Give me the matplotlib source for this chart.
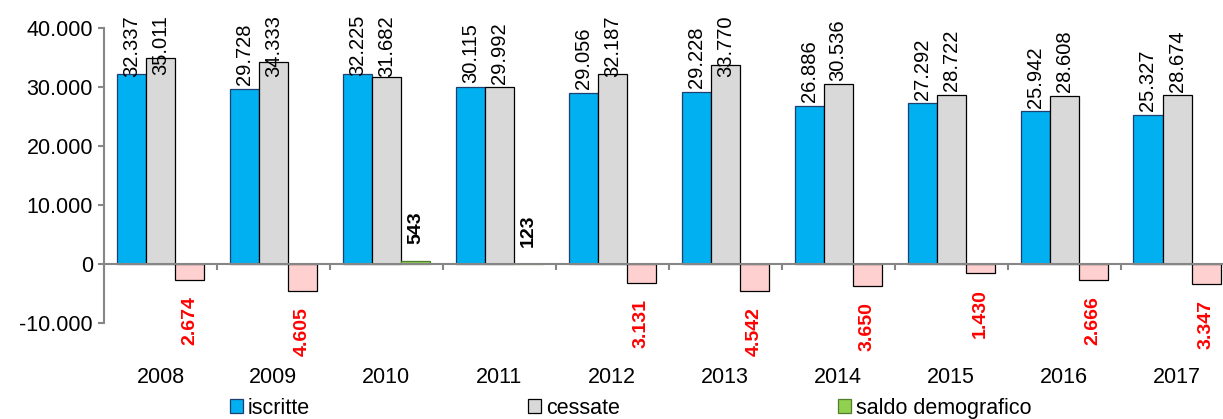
import matplotlib
matplotlib.use("Agg")
import matplotlib.pyplot as plt
from matplotlib.patches import Patch
from matplotlib.ticker import FixedLocator, FuncFormatter

years = ["2008", "2009", "2010", "2011", "2012", "2013", "2014", "2015", "2016", "2017"]
iscritte = [32337, 29728, 32225, 30115, 29056, 29228, 26886, 27292, 25942, 25327]
cessate = [35011, 34333, 31682, 29992, 32187, 33770, 30536, 28722, 28608, 28674]
saldo = [-2674, -4605, 543, 123, -3131, -4542, -3650, -1430, -2666, -3347]
yticks = [-10000, 0, 10000, 20000, 30000, 40000]

plt.rcParams['font.family'] = ['Liberation Sans', 'DejaVu Sans']

def fmt(v):
    return f"{int(v):,}".replace(",", ".")

W, H = 1223, 419
DPI = 100
fig = plt.figure(figsize=(W / DPI, H / DPI), dpi=DPI)
ax = fig.add_axes([104 / W, 1 - 323.3 / H, (1233.5 - 104) / W, (323.3 - 28.3) / H])

x = list(range(len(years)))
bw = 0.257
c_isc = "#00B0F0"
c_ces = "#D9D9D9"
c_neg = "#FFD0D0"
c_pos = "#92D050"

b1 = ax.bar([i - bw for i in x], iscritte, bw, color=c_isc, edgecolor="#1F3F6F", linewidth=0.9, zorder=2)
b2 = ax.bar(x, cessate, bw, color=c_ces, edgecolor="#000000", linewidth=0.9, zorder=2)
scol = [c_pos if v > 0 else c_neg for v in saldo]
secol = ["#4F7F2A" if v > 0 else "#000000" for v in saldo]
b3 = ax.bar([i + bw for i in x], saldo, bw, color=scol, edgecolor=secol, linewidth=0.9, zorder=2)

top_anns = []
for bars, vals in ((b1, iscritte), (b2, cessate)):
    for r, v in zip(bars, vals):
        a = ax.annotate(fmt(v), (r.get_x() + r.get_width() / 2, v), xytext=(0, 2.5),
                        textcoords="offset points", rotation=90, ha="center", va="bottom",
                        fontsize=14.5, color="#000000", zorder=3)
        top_anns.append(a)

for r, v in zip(b3, saldo):
    cx = r.get_x() + r.get_width() / 2
    if v > 0:
        ax.annotate(fmt(v), (cx, v), xytext=(0, 12), textcoords="offset points",
                    rotation=90, ha="center", va="bottom", fontsize=14,
                    fontweight="bold", color="#000000", zorder=3)
    else:
        ax.annotate(fmt(-v), (cx, v), xytext=(0, -11.5), textcoords="offset points",
                    rotation=90, ha="center", va="top", fontsize=14,
                    fontweight="bold", color="#FF0000", zorder=3)

ax.set_xlim(-0.5, len(years) - 0.5)
ax.set_ylim(-10000, 40000)
ax.set_yticks(yticks)
ax.yaxis.set_major_formatter(FuncFormatter(lambda v, p: fmt(v)))

gray = "#868686"
for s in ("top", "right"):
    ax.spines[s].set_visible(False)
ax.spines["left"].set_color(gray)
ax.spines["left"].set_linewidth(1.5)
ax.spines["bottom"].set_position(("data", 0))
ax.spines["bottom"].set_color(gray)
ax.spines["bottom"].set_linewidth(1.5)
ax.spines["bottom"].set_zorder(3)

ax.tick_params(axis="y", direction="out", length=4, width=1.5, color=gray,
               labelsize=15.5, labelcolor="#000000", pad=4)
ax.xaxis.set_major_locator(FixedLocator([i - 0.5 for i in range(len(years) + 1)]))
ax.xaxis.set_major_formatter(FuncFormatter(lambda v, p: ""))
ax.xaxis.set_minor_locator(FixedLocator(x))
ax.set_xticklabels(years, minor=True)
ax.tick_params(axis="x", which="major", direction="out", length=4, width=1.5, color=gray)
ax.tick_params(axis="x", which="minor", length=0, pad=74, labelsize=15.5, labelcolor="#000000")

leg_items = [("iscritte", c_isc, "#1F3F6F", 230), ("cessate", c_ces, "#000000", 528),
             ("saldo demografico", c_pos, "#4F7F2A", 838)]
for lab, fc, ec, px in leg_items:
    h = Patch(facecolor=fc, edgecolor=ec, linewidth=0.9, label=lab)
    fig.legend(handles=[h], loc="center left", bbox_to_anchor=(px / W, 1 - 408 / H),
               frameon=False, fontsize=15.5, borderpad=0, borderaxespad=0,
               handlelength=0.62, handleheight=0.62, handletextpad=0.2)

# keep value labels inside the figure (like Excel does), shifting them down if needed
fig.canvas.draw()
rend = fig.canvas.get_renderer()
limit = H - 15
for a in top_anns:
    bb = a.get_window_extent(rend)
    if bb.y1 > limit:
        shift_px = bb.y1 - limit
        a.xyann = (0, 2.5 - shift_px * 72.0 / DPI)

fig.savefig("out.png", dpi=DPI)
